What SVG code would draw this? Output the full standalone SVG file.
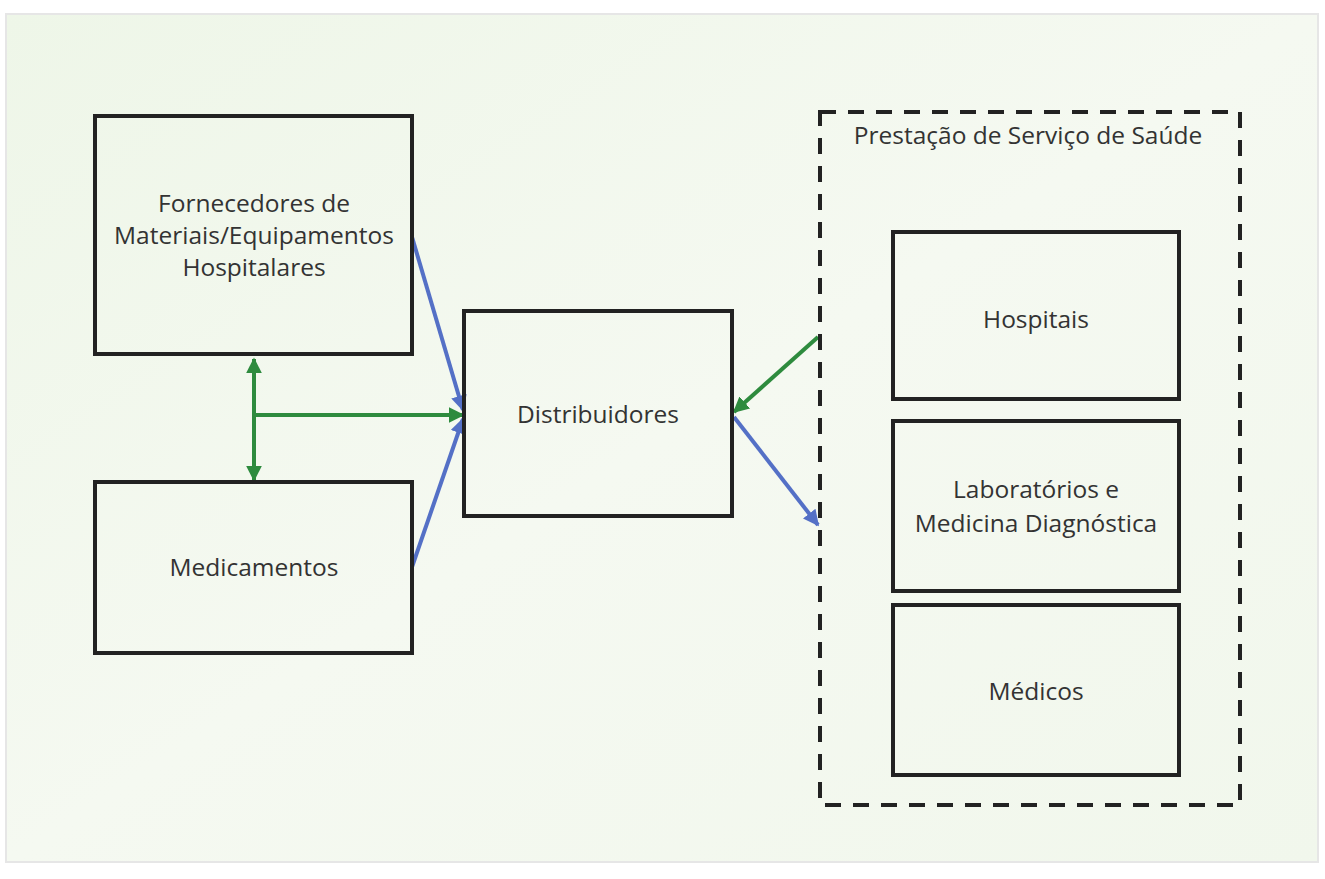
<svg xmlns="http://www.w3.org/2000/svg" width="1325" height="879" viewBox="0 0 1325 879">
<defs>
<linearGradient id="bg" x1="0" y1="0" x2="1" y2="1">
<stop offset="0" stop-color="#eef6e8"/>
<stop offset="0.5" stop-color="#f5f9f1"/>
<stop offset="1" stop-color="#f1f7ec"/>
</linearGradient>
<marker id="ab" viewBox="0 0 10 10" refX="9" refY="5" markerWidth="4" markerHeight="4" orient="auto-start-reverse" markerUnits="strokeWidth">
<path d="M0,0 L10,5 L0,10 z" fill="#5470c6"/>
</marker>
<marker id="ag" viewBox="0 0 10 10" refX="9" refY="5" markerWidth="4" markerHeight="4" orient="auto-start-reverse" markerUnits="strokeWidth">
<path d="M0,0 L10,5 L0,10 z" fill="#2e8b3e"/>
</marker>
</defs>
<style>
.box{fill:none;stroke:#222;stroke-width:4}
.lbl{font-family:"Open Sans","Liberation Sans",sans-serif;font-size:24.5px;fill:#333333;text-anchor:middle}
.blue{stroke:#5470c6;stroke-width:4;fill:none}
.green{stroke:#2e8b3e;stroke-width:4;fill:none}
</style>
<rect x="0" y="0" width="1325" height="879" fill="#ffffff"/>
<rect x="6" y="14" width="1312" height="848" fill="url(#bg)" stroke="#e6e6e6" stroke-width="2"/>

<g id="connectors">
<line class="blue" x1="412" y1="237" x2="463" y2="410" marker-end="url(#ab)"/>
<line class="blue" x1="412" y1="567" x2="463" y2="419" marker-end="url(#ab)"/>
<line class="green" x1="254" y1="359" x2="254" y2="480" marker-start="url(#ag)" marker-end="url(#ag)"/>
<line class="green" x1="254" y1="415" x2="463" y2="415" marker-end="url(#ag)"/>
<line class="green" x1="818" y1="337" x2="734" y2="412" marker-end="url(#ag)"/>
<line class="blue" x1="734" y1="417" x2="818" y2="525" marker-end="url(#ab)"/>
</g>

<g id="fornecedores">
<rect class="box" x="95" y="116" width="317" height="238"/>
<text class="lbl" x="254" y="212">Fornecedores de</text>
<text class="lbl" x="254" y="244">Materiais/Equipamentos</text>
<text class="lbl" x="254" y="276">Hospitalares</text>
</g>
<g id="medicamentos">
<rect class="box" x="95" y="482" width="317" height="171"/>
<text class="lbl" x="254" y="576">Medicamentos</text>
</g>
<g id="distribuidores">
<rect class="box" x="464" y="311" width="268" height="205"/>
<text class="lbl" x="598" y="423">Distribuidores</text>
</g>
<g id="prestacao">
<rect x="820" y="112" width="420" height="693" fill="none" stroke="#222" stroke-width="4" stroke-dasharray="16,12"/>
<text class="lbl" x="1028" y="144">Prestação de Serviço de Saúde</text>
</g>
<g id="hospitais">
<rect class="box" x="893" y="232" width="286" height="167"/>
<text class="lbl" x="1036" y="328">Hospitais</text>
</g>
<g id="laboratorios">
<rect class="box" x="893" y="421" width="286" height="170"/>
<text class="lbl" x="1036" y="498">Laboratórios e</text>
<text class="lbl" x="1036" y="532">Medicina Diagnóstica</text>
</g>
<g id="medicos">
<rect class="box" x="893" y="605" width="286" height="170"/>
<text class="lbl" x="1036" y="700">Médicos</text>
</g>
</svg>
